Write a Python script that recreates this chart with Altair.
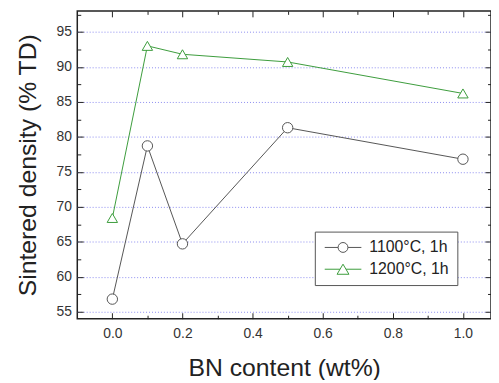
import altair as alt
import pandas as pd

bn = [0.0, 0.1, 0.2, 0.5, 1.0]
d1100 = [56.8, 78.7, 64.7, 81.3, 76.8]
d1200 = [68.4, 93.0, 91.8, 90.7, 86.2]
series = ["1100°C, 1h", "1200°C, 1h"]
x_major = [0.0, 0.2, 0.4, 0.6, 0.8, 1.0]
x_minor = [0.1, 0.3, 0.5, 0.7, 0.9]
y_major = [55, 60, 65, 70, 75, 80, 85, 90, 95]
y_minor = [57.5, 62.5, 67.5, 72.5, 77.5, 82.5, 87.5, 92.5, 97.5]

rows = []
for s, vals in zip(series, [d1100, d1200]):
    for x, y in zip(bn, vals):
        rows.append({"bn": x, "density": y, "series": s})
df = pd.DataFrame(rows)

W, H = 418, 311
FONT = "Liberation Sans"
xs = alt.Scale(domain=[-0.1, 1.08], nice=False, zero=False)
ys = alt.Scale(domain=[54, 98], nice=False, zero=False)
cols = alt.Scale(domain=series, range=["#555555", "#3c9c3c"])

circle_path = "M-1,0L1.25,0M2.91,0L5.17,0M2.91,0A0.83,0.83,0,1,1,1.25,0A0.83,0.83,0,1,1,2.91,0Z"
tri_path = "M-1,0L1.58,0M2.58,0L5.17,0M2.08,-0.85L3.08,0.85L1.08,0.85Z"

main_x = alt.Axis(orient="bottom", values=x_major, format=".1f", ticks=False, tickSize=0,
                  domain=False, grid=False, labelPadding=8, labelFontSize=14, labelColor="#333",
                  labelFont=FONT, title="BN content (wt%)", titleFontSize=25,
                  titleFontWeight="normal", titleFont=FONT, titleColor="#222", titlePadding=15)
main_y = alt.Axis(orient="left", values=y_major, ticks=False, tickSize=0, domain=False,
                  grid=True, gridColor="#8c8cf0", gridDash=[1, 2], gridWidth=1,
                  labelPadding=6, labelFontSize=14, labelColor="#333", labelFont=FONT,
                  title="Sintered density (% TD)", titleFontSize=25, titleFontWeight="normal",
                  titleFont=FONT, titleColor="#222", titlePadding=16)

legend = alt.Legend(title=None, orient="none", legendX=240, legendY=223, padding=8,
                    strokeColor="#555", fillColor="white", symbolSize=144,
                    symbolStrokeWidth=1, symbolOpacity=1, labelFontSize=16, labelFont=FONT,
                    labelColor="#222", labelOffset=31, rowPadding=6)

base = alt.Chart(df)
lines = base.mark_line(strokeWidth=1).encode(
    x=alt.X("bn:Q", scale=xs, axis=main_x),
    y=alt.Y("density:Q", scale=ys, axis=main_y),
    color=alt.Color("series:N", scale=cols, legend=legend),
)


def point_layer(name, shape):
    return base.transform_filter(alt.datum.series == name).mark_point(
        fill="white", filled=False, strokeWidth=1, opacity=1, shape=shape, size=110
    ).encode(
        x=alt.X("bn:Q", scale=xs, axis=None),
        y=alt.Y("density:Q", scale=ys, axis=None),
        color=alt.Color("series:N", scale=cols, legend=legend),
    )


p1 = point_layer(series[0], "circle")
p2 = point_layer(series[1], "triangle-up")

leg = base.mark_point(opacity=0, filled=False, strokeWidth=1).encode(
    x=alt.X("bn:Q", scale=xs, axis=None),
    y=alt.Y("density:Q", scale=ys, axis=None),
    color=alt.Color("series:N", scale=cols, legend=legend),
    shape=alt.Shape("series:N", scale=alt.Scale(domain=series, range=[circle_path, tri_path]), legend=legend),
    size=alt.value(144),
)


def tick_axis(orient, offset, values, size):
    return alt.Axis(orient=orient, offset=offset, values=values, labels=False, domain=False,
                    grid=False, ticks=True, tickSize=size, tickColor="#222", tickWidth=1,
                    title=None)


def tick_layer(xo, xoff, yo, yoff, xv, yv, size):
    return base.mark_point(opacity=0).encode(
        x=alt.X("bn:Q", scale=xs, axis=tick_axis(xo, xoff, xv, size)),
        y=alt.Y("density:Q", scale=ys, axis=tick_axis(yo, yoff, yv, size)),
    )


t1 = tick_layer("top", -H, "right", -W, x_major, y_major, 6)
t2 = tick_layer("bottom", -H, "left", -W, x_major, y_major, 6)
t3 = tick_layer("top", -H, "right", -W, x_minor, y_minor, 3.5)
t4 = tick_layer("bottom", -H, "left", -W, x_minor, y_minor, 3.5)

chart = alt.layer(t1, t2, t3, t4, lines, p1, p2, leg).resolve_axis(
    x="independent", y="independent"
).properties(
    width=W, height=H,
    autosize=alt.AutoSizeParams(type="none"),
    padding={"left": 70, "top": 1, "right": 0, "bottom": 60},
).configure_view(stroke="#222", strokeWidth=1.5)

chart.save("out.html", embed_options={"renderer": "svg", "actions": False})
